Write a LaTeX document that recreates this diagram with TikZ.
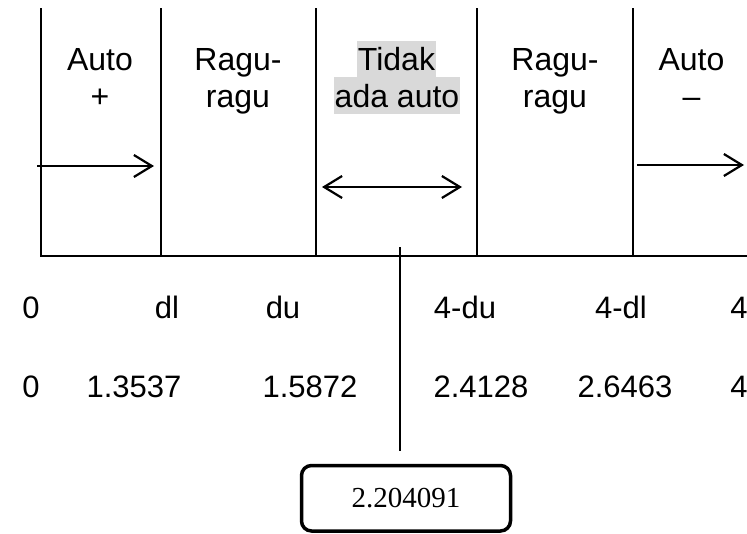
\documentclass[tikz,border=0pt]{standalone}
\usepackage{fontspec}
\setmainfont{Liberation Sans}
\newfontfamily\valuefont{Liberation Serif}
\usetikzlibrary{arrows.meta}
\begin{document}
\begin{tikzpicture}[x=1pt,y=-1pt,
  zone/.style={font=\fontsize{32}{36}\selectfont, anchor=base, inner sep=0pt},
  hilite/.style={zone, fill=black!15, inner xsep=1pt, inner ysep=0.5pt,
                 text height=29.5pt, text depth=6.5pt},
  tick/.style={font=\fontsize{31}{36}\selectfont, anchor=base, inner sep=0pt},
  divider/.style={line width=2pt},
  flow/.style={line width=2.2pt, -{Straight Barb[length=18pt,width=22pt]}},
  twoway/.style={line width=2.2pt, {Straight Barb[length=18pt,width=22pt]}-{Straight Barb[length=18pt,width=22pt]}},
  stem/.style={line width=1.3pt},
  resultbox/.style={draw, line width=3.5pt, rounded corners=10pt,
                    minimum width=209pt, minimum height=65.5pt, inner sep=0pt,
                    font=\valuefont\fontsize{29}{32}\selectfont}
]
\useasboundingbox (0,0) rectangle (747,533);

% zone boundaries and base line
\coordinate (d0t) at (41,8);   \coordinate (d0b) at (41,256);
\coordinate (d1t) at (161,8);  \coordinate (d1b) at (161,256);
\coordinate (d2t) at (316,8);  \coordinate (d2b) at (316,256);
\coordinate (d3t) at (477,8);  \coordinate (d3b) at (477,256);
\coordinate (d4t) at (633,8);  \coordinate (d4b) at (633,256);
\coordinate (axisL) at (40,256); \coordinate (axisR) at (747,256);
\draw[divider] (d0t) -- (d0b);
\draw[divider] (d1t) -- (d1b);
\draw[divider] (d2t) -- (d2b);
\draw[divider] (d3t) -- (d3b);
\draw[divider] (d4t) -- (d4b);
\draw[divider] (axisL) -- (axisR);

% zone titles
\node[zone] (autoP1) at (100,70.5) {Auto};
\node[zone] (autoP2) at (100,107) {+};
\node[zone] (raguL1) at (238,70.5) {Ragu-};
\node[zone] (raguL2) at (238,107) {ragu};
\node[hilite] (none1) at (396.5,70.5) {Tidak};
\node[hilite] (none2) at (397,107) {ada auto};
\node[zone] (raguR1) at (555,70.5) {Ragu-};
\node[zone] (raguR2) at (555,107) {ragu};
\node[zone] (autoM1) at (691.5,70.5) {Auto};
\node[zone] (autoM2) at (691.5,107) {--};

% arrows
\coordinate (f1s) at (37,166);  \coordinate (f1e) at (154,166);
\coordinate (f2s) at (322,187); \coordinate (f2e) at (462,187);
\coordinate (f3s) at (637,165); \coordinate (f3e) at (744,165);
\draw[flow] (f1s) -- (f1e);
\draw[twoway] (f2s) -- (f2e);
\draw[flow] (f3s) -- (f3e);

% symbolic limits
\node[tick] (s0) at (31,318) {0};
\node[tick] (sdl) at (167,318) {dl};
\node[tick] (sdu) at (283,318) {du};
\node[tick] (s4du) at (465,318) {4-du};
\node[tick] (s4dl) at (621,318) {4-dl};
\node[tick] (s4) at (739,318) {4};

% numeric limits
\node[tick] (n0) at (31,397) {0};
\node[tick] (ndl) at (134,397) {1.3537};
\node[tick] (ndu) at (310,397) {1.5872};
\node[tick] (n4du) at (481,397) {2.4128};
\node[tick] (n4dl) at (625,397) {2.6463};
\node[tick] (n4) at (739,397) {4};

% statistic value
\coordinate (stemtop) at (400,247);
\coordinate (stembot) at (400,451);
\draw[stem] (stemtop) -- (stembot);
\node[resultbox] (result) at (406,498.25) {2.204091};
\end{tikzpicture}
\end{document}
